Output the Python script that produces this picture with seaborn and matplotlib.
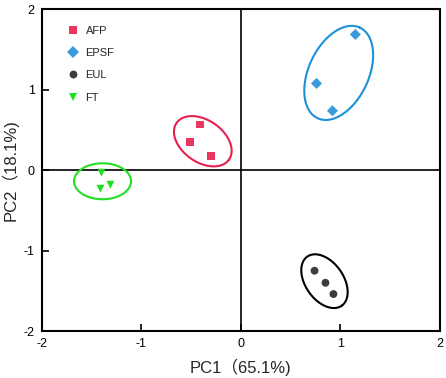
import numpy as np
import pandas as pd
import matplotlib
matplotlib.use("Agg")
import matplotlib.pyplot as plt
import seaborn as sns

# ---- data ----
groups = ["AFP", "EPSF", "EUL", "FT"]
afp_pc1 = [-0.41, -0.51, -0.30]
afp_pc2 = [0.57, 0.35, 0.18]
epsf_pc1 = [1.15, 0.76, 0.92]
epsf_pc2 = [1.69, 1.08, 0.74]
eul_pc1 = [0.74, 0.85, 0.93]
eul_pc2 = [-1.25, -1.40, -1.54]
ft_pc1 = [-1.40, -1.41, -1.31]
ft_pc2 = [-0.03, -0.23, -0.18]

# ellipse centres (data units)
ell_cx = [-0.382, 0.983, 0.840, -1.389]
ell_cy = [0.361, 1.211, -1.380, -0.137]

x_ticks = [-2, -1, 0, 1, 2]
y_ticks = [-2, -1, 0, 1, 2]
x_label = "PC1（65.1%)"
y_label = "PC2（18.1%)"

# ---- styles ----
marker_colors = {"AFP": "#EC3662", "EPSF": "#3A9BDC", "EUL": "#3C3C3C", "FT": "#1FE01F"}
ellipse_colors = {"AFP": "#E8204E", "EPSF": "#1C90D8", "EUL": "#000000", "FT": "#22E022"}
markers = {"AFP": "s", "EPSF": "D", "EUL": "o", "FT": "v"}
# ellipse semi-axes / angle in display pixels (a, b, angle deg)
ell_shape = {"AFP": (32, 21, -35), "EPSF": (50, 30, 65), "EUL": (30, 19, -55), "FT": (28.5, 18, 0)}

df = pd.DataFrame({
    "PC1": afp_pc1 + epsf_pc1 + eul_pc1 + ft_pc1,
    "PC2": afp_pc2 + epsf_pc2 + eul_pc2 + ft_pc2,
    "group": sum([[g] * 3 for g in groups], []),
})

sns.set_theme(style="white")
plt.rcParams["font.family"] = ["Liberation Sans", "Noto Sans CJK SC", "DejaVu Sans"]

fig = plt.figure(figsize=(4.46, 3.78), dpi=100)
ax = fig.add_axes([0.0935, 0.1243, 0.893, 0.8506])

ax.set_xlim(-2, 2)
ax.set_ylim(-2, 2)

ax.axhline(0, color="black", lw=1.2, zorder=1)
ax.axvline(0, color="black", lw=1.2, zorder=1)

sns.scatterplot(data=df, x="PC1", y="PC2", hue="group", style="group",
                palette=marker_colors, markers=markers, s=32, linewidth=0,
                ax=ax, zorder=3)

# ellipses computed in display space then mapped back to data
fig.canvas.draw()
t = np.linspace(0, 2 * np.pi, 200)
for i, g in enumerate(groups):
    a, b, ang = ell_shape[g]
    th = np.deg2rad(ang)
    cxp, cyp = ax.transData.transform((ell_cx[i], ell_cy[i]))
    dx = a * np.cos(t) * np.cos(th) - b * np.sin(t) * np.sin(th)
    dy = a * np.cos(t) * np.sin(th) + b * np.sin(t) * np.cos(th)
    pts = ax.transData.inverted().transform(np.column_stack([cxp + dx, cyp + dy]))
    ax.plot(pts[:, 0], pts[:, 1], color=ellipse_colors[g], lw=1.5, zorder=2)

ax.set_xticks(x_ticks)
ax.set_yticks(y_ticks)
ax.set_xticklabels([str(v) for v in x_ticks], fontsize=9)
ax.set_yticklabels([str(v) for v in y_ticks], fontsize=9)
ax.tick_params(direction="in", length=5, width=1.2, top=False, right=False,
               bottom=True, left=True, pad=5, colors="black")
for s in ax.spines.values():
    s.set_linewidth(1.5)
    s.set_color("black")

ax.set_xlabel(x_label, fontsize=12, labelpad=6)
ax.set_ylabel(y_label, fontsize=12, labelpad=4)

leg = ax.legend(loc="upper left", frameon=False, fontsize=8, title=None,
                bbox_to_anchor=(0.025, 0.98), labelspacing=1.1, handletextpad=0.15,
                markerscale=1.0)

fig.savefig("out.png", dpi=100)
